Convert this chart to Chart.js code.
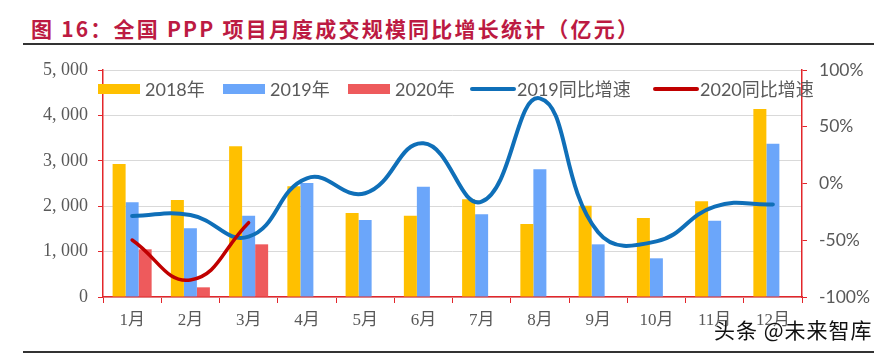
<!DOCTYPE html>
<html>
<head>
<meta charset="utf-8">
<script src="https://cdn.jsdelivr.net/npm/chart.js@4"></script>
<style>
    body { margin: 0; background: #fff; width: 886px; height: 354px; overflow: hidden; position: relative; font-family: 'Noto Sans CJK SC', sans-serif; }
    #title { position: absolute; left: 31px; top: 17px; font-size: 21px; line-height: 22px; font-weight: bold; color: #BC1A42; white-space: nowrap; letter-spacing: 2.2px; }
    .rule { position: absolute; left: 23px; width: 851px; height: 2px; background: #333; }
    #wrap { position: absolute; left: 0; top: 0; width: 886px; height: 354px; }
    #mark { position: absolute; left: 714px; top: 319px; font-size: 21px; line-height: 21px; color: #111; letter-spacing: 1px; text-shadow: 0 0 2px #fff; }
</style>
</head>
<body>
<div id="title">图 16：全国 PPP 项目月度成交规模同比增长统计（亿元）</div>
<div class="rule" style="top:43px"></div>
<div id="wrap"><canvas id="currentChart" width="886" height="354"></canvas></div>
<div class="rule" style="top:351px"></div>
<div id="mark">头条 @未来智库</div>

<script>
// data (亿元 / %)
const months = ['1月', '2月', '3月', '4月', '5月', '6月', '7月', '8月', '9月', '10月', '11月', '12月'];
const vol2018 = [2930, 2137, 3319, 2438, 1850, 1791, 2152, 1608, 2011, 1740, 2108, 4141];
const vol2019 = [2086, 1513, 1791, 2511, 1696, 2430, 1822, 2812, 1160, 852, 1681, 3377];
const vol2020 = [1050, 213, 1160, null, null, null, null, null, null, null, null, null];
const yoy2019 = [-28.6, -27.8, -46.8, 4.6, -8.6, 35.4, -16, 75, -43, -51, -20.3, -18.4];
const yoy2020 = [-49.8, -85, -34.5, null, null, null, null, null, null, null, null, null];
const leftTicks = [0, 1000, 2000, 3000, 4000, 5000];
const rightTicks = [-100, -50, 0, 50, 100];

const RED = '#E3262B';
const GREY = '#595959';
const serif = "'Liberation Serif', 'Noto Sans CJK SC', serif";
const sans = "Lato, 'Noto Sans CJK SC', sans-serif";

// legend drawn inside plot area, like the original
const legendItems = [
    { x: 98, text: '2018年', color: '#FFC000', kind: 'box' },
    { x: 223, text: '2019年', color: '#6BA6FA', kind: 'box' },
    { x: 348, text: '2020年', color: '#EE5A5C', kind: 'box' },
    { x: 470, text: '2019同比增速', color: '#0F6FB8', kind: 'line' },
    { x: 653, text: '2020同比增速', color: '#C00000', kind: 'line' }
];

const insideLegend = {
    id: 'insideLegend',
    afterDraw(chart) {
        const ctx = chart.ctx;
        ctx.save();
        ctx.font = '18px ' + sans;
        ctx.textBaseline = 'middle';
        legendItems.forEach(it => {
            const y = 89;
            if (it.kind === 'box') {
                ctx.fillStyle = it.color;
                ctx.fillRect(it.x, y - 5, 42, 10);
            } else {
                ctx.strokeStyle = it.color;
                ctx.lineWidth = 4;
                ctx.lineCap = 'round';
                ctx.beginPath();
                ctx.moveTo(it.x + 2, y);
                ctx.lineTo(it.x + 44, y);
                ctx.stroke();
            }
            ctx.fillStyle = GREY;
            ctx.fillText(it.text, it.x + 47, y + 1);
        });
        ctx.restore();
    }
};

const fmt = v => {
    if (v < 1000) return String(v);
    const s = String(v);
    return s.slice(0, s.length - 3) + ', ' + s.slice(-3);
};

new Chart(document.getElementById('currentChart'), {
    data: {
        labels: months,
        datasets: [
            { type: 'line', label: '2020同比增速', data: yoy2020, yAxisID: 'y1', borderColor: '#C00000', borderWidth: 3.5, pointRadius: 0, tension: 0.45, order: 0, borderCapStyle: 'round' },
            { type: 'line', label: '2019同比增速', data: yoy2019, yAxisID: 'y1', borderColor: '#0F6FB8', borderWidth: 4, pointRadius: 0, tension: 0.45, order: 1, borderCapStyle: 'round' },
            { type: 'bar', label: '2018年', data: vol2018, yAxisID: 'y', backgroundColor: '#FFC000', barPercentage: 1, categoryPercentage: 0.67, order: 2 },
            { type: 'bar', label: '2019年', data: vol2019, yAxisID: 'y', backgroundColor: '#6BA6FA', barPercentage: 1, categoryPercentage: 0.67, order: 2 },
            { type: 'bar', label: '2020年', data: vol2020, yAxisID: 'y', backgroundColor: '#EE5A5C', barPercentage: 1, categoryPercentage: 0.67, order: 2 }
        ]
    },
    options: {
        responsive: false,
        animation: false,
        layout: { padding: { top: 70, left: 0, right: 0, bottom: 0 } },
        plugins: { legend: { display: false }, tooltip: { enabled: false } },
        scales: {
            x: {
                grid: { offset: true, drawOnChartArea: false, color: RED, tickLength: 6 },
                border: { color: RED, width: 1.5 },
                ticks: { color: GREY, font: { size: 17, family: serif }, padding: 7, maxRotation: 0 },
                afterFit: s => { s.height = 57; }
            },
            y: {
                position: 'left',
                min: 0, max: 5000,
                afterBuildTicks: s => { s.ticks = leftTicks.map(v => ({ value: v })); },
                ticks: { color: GREY, font: { size: 18, family: serif }, padding: 10, callback: v => fmt(v) },
                grid: { color: '#D9D9D9', tickColor: RED, tickLength: 5, lineWidth: 1 },
                border: { color: RED, width: 1.5 },
                afterFit: s => { s.width = 103; }
            },
            y1: {
                position: 'right',
                min: -100, max: 100,
                afterBuildTicks: s => { s.ticks = rightTicks.map(v => ({ value: v })); },
                ticks: { color: GREY, font: { size: 17.5, family: sans }, padding: 12, callback: v => v + '%' },
                grid: { drawOnChartArea: false, color: RED, tickLength: 5 },
                border: { color: RED, width: 1.5 },
                afterFit: s => { s.width = 84; }
            }
        }
    },
    plugins: [insideLegend]
});
</script>
</body>
</html>
